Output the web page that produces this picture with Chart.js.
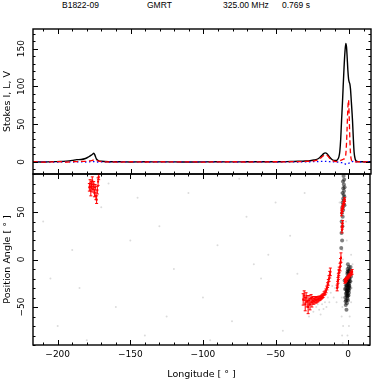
<!DOCTYPE html>
<html>
<head>
<meta charset="utf-8">
<title>B1822-09 GMRT 325 MHz</title>
<script src="https://cdn.jsdelivr.net/npm/chart.js@4.4.1/dist/chart.umd.min.js"></script>
<style>
  html, body { margin: 0; padding: 0; background: #fff; }
  #wrap { position: relative; width: 374px; height: 382px; background: #fff; overflow: hidden; }
  #wrap canvas { position: absolute; left: 0; }
  #profile { top: 0; }
  #pa { top: 170px; }
  .hdr { position: absolute; top: 0; font: 8.5px/10px "Liberation Sans", Arial, sans-serif; color: #000; white-space: nowrap; }
</style>
</head>
<body>
<div id="wrap">
  <span class="hdr" style="left:62px">B1822-09</span>
  <span class="hdr" style="left:147px">GMRT</span>
  <span class="hdr" style="left:223px">325.00 MHz</span>
  <span class="hdr" style="left:282px">0.769 s</span>
  <canvas id="profile" width="374" height="178"></canvas>
  <canvas id="pa" width="374" height="212"></canvas>
</div>
<script>
// Pulse profile: longitude (deg) and Stokes I, L, V
const profLon = [
  -217, -210, -204, -198, -194, -190, -187, -184, -181, -179,
  -177, -176, -175.3, -174.5, -173.5, -172, -170, -165, -158, -150,
  -140, -130, -120, -110, -100, -90, -80, -70, -60, -50,
  -45, -40, -35, -30, -27, -24, -21, -19, -17.5, -16.5,
  -15, -13.5, -12, -10.5, -9, -8, -7, -6.4, -5.8, -5.2,
  -4.6, -4.1, -3.5, -2.9, -2.3, -1.8, -1.4, -0.9, -0.4, 0,
  0.5, 0.9, 1.5, 2.3, 2.9, 3.4, 4, 4.5, 5.5, 7,
  9, 12, 15
];
const stokesI = [
  0.3, -0.2, 0.4, 0.5, 1.0, 2.0, 3.0, 3.2, 4.5, 6.5,
  9, 10.5, 11.5, 9, 4, 1.5, 0.8, 0.3, 0.2, -0.1,
  0.2, 0, 0.1, -0.2, 0.1, 0.2, 0, 0.2, 0.3, 0.2,
  0.4, 0.5, 0.8, 1.2, 1.6, 2.5, 4.5, 8, 11, 12,
  10.5, 6.5, 3.5, 2, 1.8, 3, 7, 14, 30, 55,
  78, 100, 125, 145, 157, 152, 140, 122, 110, 106,
  103, 97, 80, 55, 30, 13, 5, 2, 0.8, 0.4,
  0.2, 0.1, 0.2
];
const stokesL = [
  0.2, -0.3, 0.1, 0.3, -0.2, 0.4, 0.5, 0.6, 0.8, 1.2,
  1.8, 2.2, 2.5, 2.4, 2, 1, 0.4, 0.1, -0.2, 0.2,
  -0.1, 0.2, 0, 0.1, -0.2, 0.1, 0.2, -0.1, 0.1, 0.2,
  0.1, 0.3, 0.4, 0.6, 0.9, 1.5, 3, 6, 8.5, 9.5,
  8.5, 5, 2.5, 1, 0.5, 0.5, 1, 1.5, 2, 2.5,
  3, 3.5, 4, 5, 10, 25, 45, 70, 82, 62,
  30, 12, 3, 1, 0.5, 0.3, 0.2, 0.1, 0, 0.2,
  0.1, -0.1, 0.2
];
const stokesV = [
  -0.1, 0.1, -0.2, 0, 0.1, -0.1, 0.2, 0, -0.1, 0.1,
  0.3, 0.2, 0.4, 0.1, -0.2, 0, 0.1, -0.1, 0, 0.1,
  -0.1, 0, 0.1, -0.1, 0, 0.1, -0.1, 0, 0.1, -0.1,
  0, 0.1, -0.1, 0.1, 0.2, 0.3, 0.5, 0.7, 0.8, 0.8,
  0.6, 0.3, 0.1, 0, -0.1, -0.2, -0.4, -0.6, -0.8, -1.0,
  -1.2, -1.5, -2, -2.5, -3, -3.2, -3, -2.5, -2, -1.5,
  -1, -0.5, 0.2, 0.5, 0.6, 0.4, 0.2, 0.1, 0, -0.1,
  0.1, 0, 0.1
];

// Average position angle with errors (deg)
const paLon = [
  // interpulse
  -178.2, -177.7, -177.2, -176.7, -176.2, -175.7, -175.2, -174.7, -174.2, -173.7, -173.2, -172.7, -172.2, -171.8,
  // leading part of main pulse
  -31.0, -30.3, -29.6, -29.0, -28.3, -27.6, -27.0, -26.3, -25.6, -25.0, -24.3,
  -23.6, -22.9, -22.2, -21.5, -20.8, -20.1, -19.4, -18.7, -18.0, -17.3,
  -16.6, -15.9, -15.3, -14.7, -14.2, -13.7, -13.2, -12.7, -12.3,
  // central jumps
  -7.6, -7.3, -7.0, -6.8, -6.5, -6.2, -5.6, -5.3, -5.0,
  -4.3, -4.1, -3.9, -4.6, -4.3, -4.0, -3.7, -3.4, -3.1, -2.8, -2.5,
  -2.3, -1.8, -1.3, -0.8, -0.3, 0.2, 0.7, 1.2, 1.7, 2.2, 2.7
];
const paDeg = [
  76, 80, 72, 78, 83, 74, 79, 70, 76, 67, 63, 73, 82, 87,
  -42, -38, -47, -40, -44, -50, -43, -47, -41, -45, -43,
  -44, -42, -43, -42, -42, -41, -41, -40, -39, -38,
  -36, -35, -33, -30, -27, -24, -20, -16, -13,
  -30, -26, -22, -18, -14, -11, -8, -3, 2,
  31, 35, 38, 49, 51, 53, 55, 57, 59, 61, 63,
  -23, -22, -21, -20, -19, -18, -17, -16, -15, -14, -13
];
const paErr = [
  4, 4, 5, 4, 4, 3, 3, 4, 3, 4, 4, 4, 4, 3,
  6, 5, 7, 5, 6, 7, 5, 6, 4, 5, 4,
  3, 3, 3, 3, 2.5, 2.5, 2, 2, 2, 2,
  2, 2, 2, 2, 2.5, 3, 3, 3.5, 4,
  3, 3, 3, 3, 3, 3, 4, 4, 5,
  3, 3, 3, 3, 2.5, 2.5, 2, 2, 2, 2, 2,
  2, 2, 2, 1.5, 1.5, 1.5, 1.5, 1.5, 2, 2, 2.5
];

// Single-pulse position angles: dense regions (dark grey)
const denseLon = [
  -0.2, 0.4, 0.8, 0.2, -0.4, 1.2, 0.6, 0, -0.6, 1.0,
  0.3, -0.3, -0.9, 1.5, 0.7, 0, -0.7, -1.3, 0.4, -0.3,
  -1.0, 1.0, -1.6, 0, -0.7, -1.3, 0.5, -0.3, -1.0, -1.6,
  -0.6, -1.3, -2.0, -0.9, -1.7, -1.2, -2.2, 1.6, 1.9, -2.5,
  -0.5, 0.1, 0.6, -1.1, -0.2, 0.9, -0.8, 0.3, -1.4, -0.1,
  0.5, -0.9, -0.4, 0.2, -1.1, -0.6, 0.8, -0.2, -1.8, 1.3,
  -3.2, -2.8, -3.6, -3.0, -2.5, -3.4, -2.9, -3.8, -3.1, -2.6,
  -3.5, -2.9, -3.9, -3.3, -2.6, -4.0, -3.5, -4.3, -3.8, -4.5,
  -4.0, -4.6, -4.2, -4.8
];
const densePA = [
  -5, -8, -12, -12, -10, -15, -16, -17, -15, -20,
  -21, -22, -19, -23, -25, -26, -24, -23, -29, -30,
  -28, -30, -27, -33, -34, -32, -35, -38, -38, -36,
  -41, -43, -40, -46, -48, -53, -31, -8, -18, -22,
  -13, -14, -19, -21, -24, -23, -27, -27, -30, -31,
  -32, -33, -36, -38, -35, -39, -28, -43, -44, -11,
  88, 84, 82, 79, 76, 75, 72, 70, 68, 66,
  64, 62, 60, 58, 57, 55, 52, 49, 45, 40,
  35, 28, 20, 12
];
// Single-pulse position angles: sparse samples (faint grey)
const sparseLon = [
  -22, -20, -18, -16, -14, -12, -19, -24, -27, -15,
  -11, -13, -17, -21, -25, -10, -9, -8,
  -4, -4.5, -3.5, -4.2, -3.8, -4, -3.6, -5, -4.4, 1,
  0.5, -0.5, 2, 2.5, 3, 2, -1, -1.5, -2, -5, -6,
  -210, -200, -190, -185, -170, -160, -150, -140, -130, -120,
  -110, -100, -90, -80, -70, -60, -50, -45, -40, -35,
  -180, -165, -125, -75, -55, -205, -145, -95, -65, -30
];
const sparsePA = [
  -50, -53, -47, -45, -40, -35, -58, -55, -60, -50,
  -28, -45, -52, -47, -37, -40, -30, -45,
  -50, -60, -70, -80, -88, 10, 0, -20, -40, -60,
  -70, -80, -45, -30, -5, 5, 20, 40, 85, 70, 60,
  40, -70, 10, -30, 55, -50, 20, -80, 35, -10,
  70, -40, 15, -65, 45, -20, 60, -75, 25, -15,
  -85, 80, -60, 85, 5, -20, 65, -85, -5, 70
];

// Axis tick labels
const lonTicks = [-200, -150, -100, -50, 0];
const stokesTicks = [0, 50, 100, 150];
const paTicks = [-50, 0, 50];

const FONT = '"DejaVu Sans", sans-serif';
Chart.defaults.font.family = FONT;
Chart.defaults.font.size = 9;
Chart.defaults.color = '#000';

function xy(xs, ys) {
  return xs.map((x, i) => ({ x: x, y: ys[i] }));
}

function minus(v) {
  return String(v).replace('-', '\u2212');
}

// Minor/major tick positions between the axis limits
function tickValues(min, max, minor, major) {
  const out = [];
  for (let v = Math.ceil(min / minor) * minor; v <= max; v += minor) {
    out.push({ v: v, major: v % major === 0 });
  }
  return out;
}

// Box frame with inward ticks on all sides, rotated y labels
const pgFrame = {
  id: 'pgFrame',
  afterDraw(chart, args, opts) {
    const { ctx, chartArea: area } = chart;
    const xs = chart.scales.x;
    const ys = chart.scales.y;
    ctx.save();
    ctx.strokeStyle = '#000';
    ctx.lineWidth = 1.4;
    ctx.strokeRect(area.left, area.top, area.right - area.left, area.bottom - area.top);

    ctx.lineWidth = 1;
    ctx.beginPath();
    tickValues(xs.min, xs.max, 10, 50).forEach(t => {
      const px = Math.round(xs.getPixelForValue(t.v)) + 0.5;
      const len = t.major ? 5 : 2.5;
      ctx.moveTo(px, area.bottom);
      ctx.lineTo(px, area.bottom - len);
      ctx.moveTo(px, area.top);
      ctx.lineTo(px, area.top + len);
    });
    tickValues(ys.min, ys.max, 10, 50).forEach(t => {
      const py = Math.round(ys.getPixelForValue(t.v)) + 0.5;
      const len = t.major ? 5 : 2.5;
      ctx.moveTo(area.left, py);
      ctx.lineTo(area.left + len, py);
      ctx.moveTo(area.right, py);
      ctx.lineTo(area.right - len, py);
    });
    ctx.stroke();

    ctx.fillStyle = '#000';
    ctx.font = '9px ' + FONT;
    ctx.textAlign = 'center';
    ctx.textBaseline = 'middle';
    opts.yLabels.forEach(v => {
      ctx.save();
      ctx.translate(area.left - 11, ys.getPixelForValue(v));
      ctx.rotate(-Math.PI / 2);
      ctx.fillText(minus(v), 0, 0);
      ctx.restore();
    });
    ctx.restore();
  }
};

// Vertical error bars with small caps for datasets carrying `errors`
const errorBars = {
  id: 'errorBars',
  afterDatasetsDraw(chart) {
    const { ctx } = chart;
    const ys = chart.scales.y;
    chart.data.datasets.forEach((ds, i) => {
      if (!ds.errors) return;
      const meta = chart.getDatasetMeta(i);
      ctx.save();
      ctx.strokeStyle = ds.borderColor;
      ctx.lineWidth = 1;
      ctx.beginPath();
      meta.data.forEach((pt, j) => {
        const v = ds.data[j].y;
        const e = ds.errors[j];
        const y0 = ys.getPixelForValue(v - e);
        const y1 = ys.getPixelForValue(v + e);
        ctx.moveTo(pt.x, y0);
        ctx.lineTo(pt.x, y1);
        ctx.moveTo(pt.x - 1.5, y0);
        ctx.lineTo(pt.x + 1.5, y0);
        ctx.moveTo(pt.x - 1.5, y1);
        ctx.lineTo(pt.x + 1.5, y1);
      });
      ctx.stroke();
      ctx.restore();
    });
  }
};

const axisTitleFont = { family: FONT, size: 9.5 };

// Upper panel: Stokes profile
new Chart(document.getElementById('profile'), {
  type: 'line',
  data: {
    datasets: [
      { label: 'L', data: xy(profLon, stokesL), borderColor: '#ff0000', borderDash: [5, 3], borderWidth: 1.3 },
      { label: 'V', data: xy(profLon, stokesV), borderColor: '#0000ff', borderDash: [1.5, 2.5], borderWidth: 1.3 },
      { label: 'I', data: xy(profLon, stokesI), borderColor: '#000000', borderWidth: 1.4 }
    ]
  },
  options: {
    responsive: false,
    animation: false,
    devicePixelRatio: 1,
    layout: { padding: { top: 29, right: 3, bottom: 4, left: 0 } },
    elements: {
      point: { radius: 0 },
      line: { cubicInterpolationMode: 'monotone', fill: false }
    },
    plugins: {
      legend: { display: false },
      tooltip: { enabled: false },
      pgFrame: { yLabels: stokesTicks }
    },
    scales: {
      x: { type: 'linear', min: -217, max: 15, display: false },
      y: {
        type: 'linear',
        min: -16,
        max: 176,
        ticks: { display: false },
        grid: { display: false, drawTicks: false },
        border: { display: false },
        title: { display: true, text: 'Stokes I, L, V', font: axisTitleFont, padding: { top: 2, bottom: 0 } },
        afterFit(scale) { scale.width = 33; }
      }
    }
  },
  plugins: [pgFrame]
});

// Lower panel: position angle
new Chart(document.getElementById('pa'), {
  type: 'scatter',
  data: {
    datasets: [
      {
        label: 'PA',
        data: xy(paLon, paDeg),
        errors: paErr,
        pointStyle: 'rect',
        pointRadius: 1.4,
        backgroundColor: '#ff0000',
        borderColor: '#ff0000',
        borderWidth: 0
      },
      {
        label: 'single pulses (dense)',
        data: xy(denseLon, densePA),
        pointRadius: 2,
        backgroundColor: 'rgba(0, 0, 0, 0.5)',
        borderWidth: 0
      },
      {
        label: 'single pulses (sparse)',
        data: xy(sparseLon, sparsePA),
        pointRadius: 1,
        backgroundColor: 'rgba(0, 0, 0, 0.14)',
        borderWidth: 0
      }
    ]
  },
  options: {
    responsive: false,
    animation: false,
    devicePixelRatio: 1,
    layout: { padding: { top: 4, right: 3, bottom: 0, left: 0 } },
    plugins: {
      legend: { display: false },
      tooltip: { enabled: false },
      pgFrame: { yLabels: paTicks }
    },
    scales: {
      x: {
        type: 'linear',
        min: -217,
        max: 15,
        grid: { display: false, drawTicks: false },
        border: { display: false },
        afterBuildTicks(scale) { scale.ticks = lonTicks.map(v => ({ value: v })); },
        ticks: { padding: 4, maxRotation: 0, callback: v => minus(v) },
        title: { display: true, text: 'Longitude [ ° ]', font: axisTitleFont, padding: { top: 0, bottom: 2 } },
        afterFit(scale) { scale.height = 37; }
      },
      y: {
        type: 'linear',
        min: -90,
        max: 90,
        ticks: { display: false },
        grid: { display: false, drawTicks: false },
        border: { display: false },
        title: { display: true, text: 'Position Angle [ ° ]', font: axisTitleFont, padding: { top: 2, bottom: 0 } },
        afterFit(scale) { scale.width = 33; }
      }
    }
  },
  plugins: [pgFrame, errorBars]
});
</script>
</body>
</html>
